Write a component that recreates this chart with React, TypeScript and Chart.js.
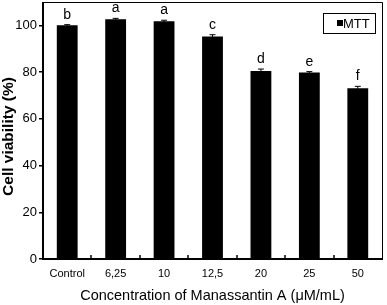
import React, { useEffect, useRef } from "react";
import { Chart, registerables } from "chart.js";

Chart.register(...registerables);

const categories = ["Control", "6,25", "10", "12,5", "20", "25", "50"];
const viability = [100, 102.6, 101.8, 95.2, 80.5, 79.8, 73.1];
const errors = [0.3, 0.4, 0.4, 0.8, 0.8, 0.4, 0.8];
const letters = ["b", "a", "a", "c", "d", "e", "f"];
const yTicks = [0, 20, 40, 60, 80, 100];
const legendLabel = "MTT";
const xTitle = "Concentration of Manassantin A (\u03bcM/mL)";
const yTitle = "Cell viability (%)";

const SANS = "'Liberation Sans', Arial, sans-serif";

const decorPlugin = {
  id: "decor",
  afterDatasetsDraw(chart: any) {
    const { ctx, chartArea } = chart;
    const xs = chart.scales.x;
    const ys = chart.scales.y;
    const { left, right, top, bottom } = chartArea;
    ctx.save();
    ctx.strokeStyle = "#000";
    ctx.fillStyle = "#000";
    // frame
    ctx.lineWidth = 1;
    ctx.beginPath();
    ctx.moveTo(left, top + 0.5);
    ctx.lineTo(right + 0.5, top + 0.5);
    ctx.lineTo(right + 0.5, bottom);
    ctx.stroke();
    ctx.lineWidth = 2;
    ctx.beginPath();
    ctx.moveTo(left, top);
    ctx.lineTo(left, bottom);
    ctx.lineTo(right + 1, bottom);
    ctx.stroke();
    // inward x ticks between categories
    ctx.lineWidth = 1.5;
    for (let i = 1; i < categories.length; i++) {
      const bx = Math.round((xs.getPixelForValue(i - 1) + xs.getPixelForValue(i)) / 2);
      ctx.beginPath();
      ctx.moveTo(bx, bottom);
      ctx.lineTo(bx, bottom - 4);
      ctx.stroke();
    }
    // error bars + letters
    ctx.lineWidth = 1;
    ctx.font = `14px ${SANS}`;
    ctx.textAlign = "center";
    ctx.textBaseline = "alphabetic";
    for (let i = 0; i < categories.length; i++) {
      const cx = xs.getPixelForValue(i);
      const yt = ys.getPixelForValue(viability[i] + errors[i]);
      const yb = ys.getPixelForValue(viability[i] - errors[i]);
      ctx.beginPath();
      ctx.moveTo(cx, yb);
      ctx.lineTo(cx, yt);
      ctx.moveTo(cx - 3, yt);
      ctx.lineTo(cx + 3, yt);
      ctx.stroke();
      ctx.fillText(letters[i], cx, yt - 6);
    }
    // legend
    const lx = right - 59;
    const ly = top + 11;
    ctx.lineWidth = 1;
    ctx.strokeRect(Math.round(lx) + 0.5, Math.round(ly) + 0.5, 52, 20);
    ctx.fillRect(Math.round(lx) + 14, Math.round(ly) + 7, 6, 6);
    ctx.font = `13px ${SANS}`;
    ctx.textAlign = "left";
    ctx.textBaseline = "middle";
    ctx.fillText(legendLabel, Math.round(lx) + 20, Math.round(ly) + 11);
    // y title
    ctx.save();
    ctx.translate(9, (top + bottom) / 2 + 6);
    ctx.rotate(-Math.PI / 2);
    ctx.font = `bold 15.5px ${SANS}`;
    ctx.textAlign = "center";
    ctx.textBaseline = "middle";
    ctx.fillText(yTitle, 0, 0);
    ctx.restore();
    ctx.restore();
  },
};

export default function App() {
  const ref = useRef<HTMLCanvasElement | null>(null);
  useEffect(() => {
    document.body.style.margin = "0";
    const canvas = ref.current;
    if (!canvas) return;
    const chart = new Chart(canvas, {
      type: "bar",
      data: {
        labels: categories,
        datasets: [
          {
            label: legendLabel,
            data: viability,
            backgroundColor: "#000",
            borderWidth: 0,
            barPercentage: 0.43,
            categoryPercentage: 1,
          },
        ],
      },
      options: {
        responsive: false,
        animation: false,
        layout: { padding: { left: 0, top: 2, right: 5, bottom: 0 } },
        plugins: {
          legend: { display: false },
          tooltip: { enabled: false },
        },
        scales: {
          x: {
            offset: true,
            grid: { display: false, drawTicks: false },
            border: { display: false },
            ticks: {
              color: "#000",
              font: { family: SANS, size: 11 },
              padding: 8,
              maxRotation: 0,
              autoSkip: false,
            },
            title: {
              display: true,
              text: xTitle,
              color: "#000",
              font: { family: SANS, size: 14.5 },
              padding: 0,
            },
            afterFit: (s: any) => {
              s.height = 46;
              s.paddingLeft = 0;
              s.paddingRight = 0;
            },
          },
          y: {
            min: 0,
            max: 110,
            grid: {
              display: true,
              drawOnChartArea: false,
              drawTicks: true,
              tickLength: 4,
              color: "#000",
              lineWidth: 1.5,
            },
            border: { display: false },
            ticks: {
              stepSize: 20,
              color: "#000",
              font: { family: SANS, size: 13 },
              padding: 2,
            },
            afterBuildTicks: (s: any) => {
              s.ticks = yTicks.map((v) => ({ value: v }));
            },
            afterFit: (s: any) => {
              s.width = 43;
              s.paddingTop = 0;
              s.paddingBottom = 0;
            },
          },
        },
      },
      plugins: [decorPlugin],
    });
    return () => chart.destroy();
  }, []);
  return (
    <div style={{ width: 387, height: 305 }}>
      <canvas ref={ref} width={387} height={305} style={{ display: "block" }} />
    </div>
  );
}
